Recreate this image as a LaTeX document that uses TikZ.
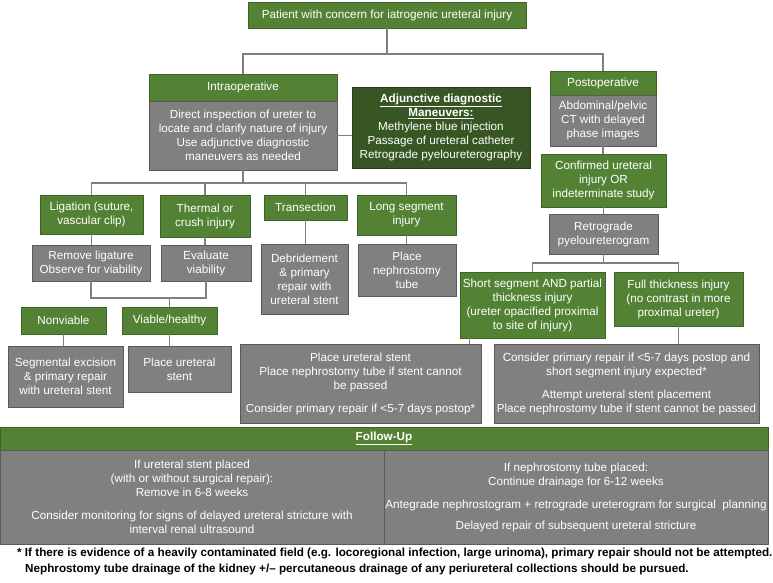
\documentclass[tikz,border=0pt]{standalone}
\usepackage{fontspec}
\setmainfont{Liberation Sans}
\usepackage{graphicx}
\definecolor{gr}{HTML}{548235}
\definecolor{dgr}{HTML}{375623}
\definecolor{gy}{HTML}{808080}
\definecolor{gyb}{HTML}{5A5A5A}
\definecolor{grb}{HTML}{3E6328}
\definecolor{ln}{HTML}{7F7F7F}
\begin{document}
\begin{tikzpicture}[x=1pt,y=-1pt,
 base/.style={align=center, text=white, inner sep=0pt, line width=0.9pt, font=\fontsize{11.7}{14}\selectfont},
 gbox/.style={base, fill=gr, draw=grb},
 ybox/.style={base, fill=gy, draw=gyb},
 dbox/.style={base, fill=dgr, draw=dgr!70!black},
 conn/.style={draw=ln, line width=1.3pt},
 fnote/.style={anchor=base west, inner sep=0pt, font=\bfseries\fontsize{11.7}{14}\selectfont}
]
\useasboundingbox (0,0) rectangle (773,582);
\fill[white] (0,0) rectangle (773,582);

% top level
\node[gbox, minimum width=278pt, minimum height=26pt] (top) at (387,15) {Patient with concern for iatrogenic ureteral injury};
\node[gbox, minimum width=188pt, minimum height=27pt] (intra) at (243,87.5) {Intraoperative};
\node[ybox, minimum width=188pt, minimum height=69pt] (intrab) at (243,135.5) {Direct inspection of ureter to\\locate and clarify nature of injury\\Use adjunctive diagnostic\\maneuvers as needed};
\node[dbox, minimum width=178pt, minimum height=81pt] (adj) at (441,127.5) {\textbf{\underline{Adjunctive diagnostic}}\\\textbf{\underline{Maneuvers:}}\\Methylene blue injection\\Passage of ureteral catheter\\Retrograde pyeloureterography};

% postoperative branch
\node[gbox, minimum width=106pt, minimum height=24pt] (post) at (603,83) {Postoperative};
\node[ybox, minimum width=106pt, minimum height=51pt] (postb) at (603,120.5) {Abdominal/pelvic\\CT with delayed\\phase images};
\node[gbox, minimum width=125pt, minimum height=53pt] (conf) at (603.5,180.5) {Confirmed ureteral\\injury OR\\indeterminate study};
\node[ybox, minimum width=109pt, minimum height=40pt] (retro) at (603.5,234) {Retrograde\\pyeloureterogram};
\node[gbox, minimum width=145pt, minimum height=66pt] (short) at (532.5,305) {Short segment AND partial\\thickness injury\\(ureter opacified proximal\\to site of injury)};
\node[gbox, minimum width=129pt, minimum height=54pt] (full) at (678.5,299) {Full thickness injury\\(no contrast in more\\proximal ureter)};
\node[ybox, minimum width=241pt, minimum height=79pt] (pl) at (360.5,383.5) {Place ureteral stent\\Place nephrostomy tube if stent cannot\\be passed\\[9pt]Consider primary repair if <5-7 days postop*};
\node[ybox, minimum width=265pt, minimum height=79pt] (pr) at (626.5,383.5) {Consider primary repair if <5-7 days postop and\\short segment injury expected*\\[9pt]Attempt ureteral stent placement\\Place nephrostomy tube if stent cannot be passed};

% intraoperative branch
\node[gbox, minimum width=103pt, minimum height=39pt] (lig) at (91.5,214.5) {Ligation (suture,\\vascular clip)};
\node[gbox, minimum width=90pt, minimum height=42pt] (therm) at (205,216) {Thermal or\\crush injury};
\node[gbox, minimum width=83pt, minimum height=25pt] (trans) at (305.5,207.5) {Transection};
\node[gbox, minimum width=99pt, minimum height=40pt] (long) at (406.5,215) {Long segment\\injury};
\node[ybox, minimum width=118pt, minimum height=36pt] (remlig) at (91,263) {Remove ligature\\Observe for viability};
\node[ybox, minimum width=90pt, minimum height=36pt] (evalv) at (206,263) {Evaluate\\viability};
\node[ybox, minimum width=87pt, minimum height=70pt] (debr) at (304.5,279) {Debridement\\\& primary\\repair with\\ureteral stent};
\node[ybox, minimum width=98pt, minimum height=52pt] (neph) at (407,270) {Place\\nephrostomy\\tube};
\node[gbox, minimum width=85pt, minimum height=27pt] (nonv) at (63.5,320.5) {Nonviable};
\node[gbox, minimum width=95pt, minimum height=27pt] (viab) at (169.5,320.5) {Viable/healthy};
\node[ybox, minimum width=115pt, minimum height=61pt] (segex) at (65.5,376.5) {Segmental excision\\\& primary repair\\with ureteral stent};
\node[ybox, minimum width=103pt, minimum height=46pt] (plst) at (179.5,369) {Place ureteral\\stent};

% follow-up
\node[gbox, minimum width=768pt, minimum height=23pt] (fu) at (384,438.5) {\textbf{\underline{Follow-Up}}};
\node[ybox, minimum width=384pt, minimum height=94pt] (ful) at (192,497) {If ureteral stent placed\\(with or without surgical repair):\\Remove in 6-8 weeks\\[9pt]Consider monitoring for signs of delayed ureteral stricture with\\interval renal ultrasound};
\node[ybox, minimum width=384pt, minimum height=94pt] (fur) at (576,497) {If nephrostomy tube placed:\\Continue drainage for 6-12 weeks\\[9pt]Antegrade nephrostogram + retrograde ureterogram for surgical\ \ planning\\[7pt]Delayed repair of subsequent ureteral stricture};

% footnote
\node[fnote] (fn1) at (17,556.5) {* If there is evidence of a heavily contaminated field (e.g. locoregional infection, large urinoma), primary repair should not be attempted.};
\node[fnote] (fn2) at (25,572.5) {Nephrostomy tube drainage of the kidney +/\textendash{} percutaneous drainage of any periureteral collections should be pursued.};

% connectors
\coordinate (b1) at (387,54);
\draw[conn] (top.south) -- (b1);
\draw[conn] (intra.north) |- (b1) -| (post.north);
\draw[conn] (intrab.east) -- (intrab.east -| adj.west);
\coordinate (b2) at (243,183);
\draw[conn] (intrab.south) -- (b2);
\draw[conn] (lig.north) |- (b2) -| (long.north);
\draw[conn] (therm.north) -- (therm.north |- b2);
\draw[conn] (trans.north) -- (trans.north |- b2);
\draw[conn] (lig.south) -- (lig.south |- remlig.north);
\draw[conn] (therm.south) -- (therm.south |- evalv.north);
\draw[conn] (trans.south) -- (trans.south |- debr.north);
\draw[conn] (long.south) -- (long.south |- neph.north);
\coordinate (b3) at (170,298);
\draw[conn] (remlig.south) |- (b3) -| (evalv.south);
\draw[conn] (viab.north) -- (viab.north |- b3);
\draw[conn] (nonv.south) -- (nonv.south |- segex.north);
\draw[conn] (viab.south) -- (viab.south |- plst.north);
\draw[conn] (postb.south) -- (postb.south |- conf.north);
\draw[conn] (conf.south) -- (conf.south |- retro.north);
\coordinate (b4) at (603.5,263);
\draw[conn] (retro.south) -- (b4);
\draw[conn] (short.north) |- (b4) -| (full.north);
\draw[conn] ([xshift=10pt]short.south west) -- ([xshift=10pt]short.south west |- pl.north);
\draw[conn] (full.south) -- (full.south |- pr.north);
\end{tikzpicture}
\end{document}
